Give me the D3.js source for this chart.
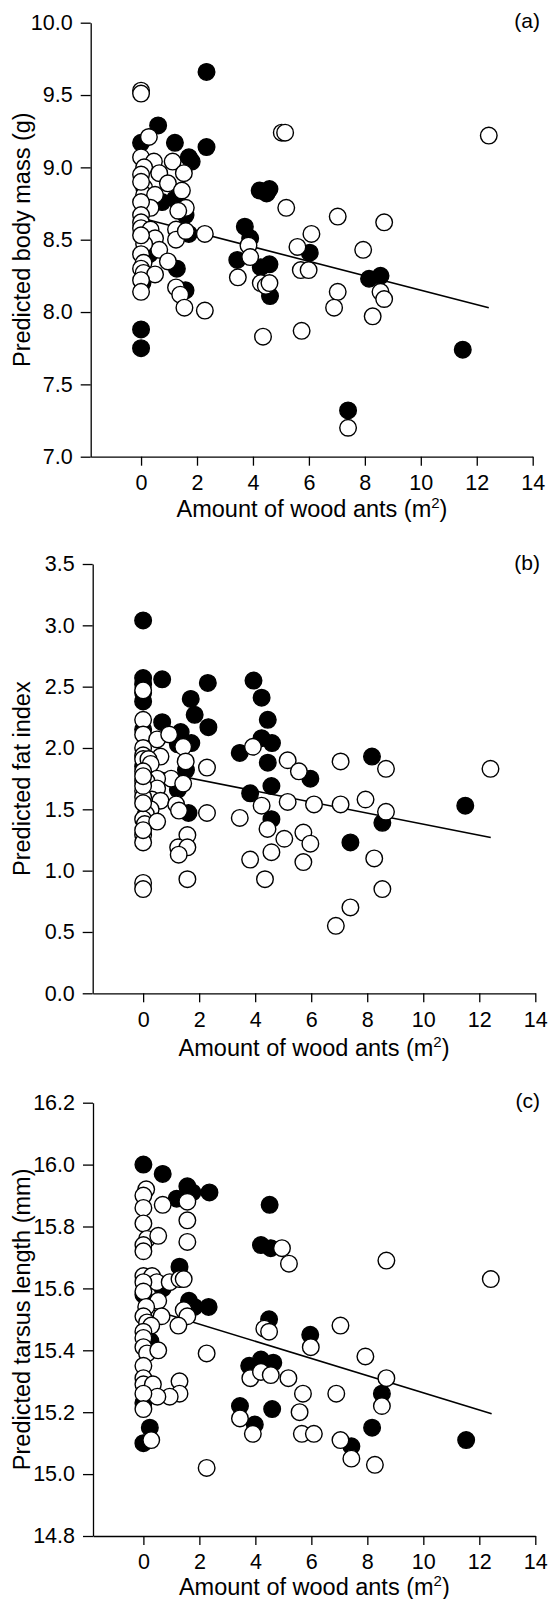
<!DOCTYPE html>
<html>
<head>
<meta charset="utf-8">
<script src="https://cdn.jsdelivr.net/npm/d3@7"></script>
<style>
    body { margin: 0; background: #fff; }
    svg { display: block; font-family: "Liberation Sans", Arial, sans-serif; }
</style>
</head>
<body>
<div id="chart"></div>
<script>
// 1: DATA (x = amount of wood ants, y = predicted value)
const xTicks = [0, 2, 4, 6, 8, 10, 12, 14];
const xTitle = "Amount of wood ants (m";

// (a) body mass
const massTicks = [7.0, 7.5, 8.0, 8.5, 9.0, 9.5, 10.0];
const massFilled = [[2.34,9.66],[0,7.75],[0,7.88],[0.61,9.29],[0,9.17],[1.21,9.17],[2.34,9.14],[1.71,9.07],[1.81,9.04],
    [1.21,8.78],[0.75,8.76],[1.71,8.54],[1.59,8.67],[1.28,8.3],[1.59,8.15],[3.71,8.59],[3.9,8.51],[3.44,8.36],[4.24,8.84],
    [4.59,8.85],[4.49,8.82],[4.28,8.31],[4.59,8.33],[4.61,8.11],[6.03,8.41],[8.15,8.23],[8.56,8.25],[7.4,7.32],[11.5,7.74],
    [0.3,8.4],[0.05,8.2]];
const massOpen = [[0,9.53],[0,9.51],[0.28,9.21],[0,9.07],[0.46,9.04],[0.11,9.0],[0.65,8.96],[1.13,9.04],[1.53,8.96],[0.96,8.89],
    [1.46,8.84],[0.11,8.86],[0.11,8.81],[0.5,8.81],[1.6,8.72],[1.33,8.7],[0.34,8.72],[0,8.95],[0,8.9],[0,8.76],[0,8.67],[0,8.62],
    [0,8.58],[0.34,8.57],[0.5,8.51],[1.25,8.57],[1.25,8.5],[1.6,8.56],[2.28,8.54],[0.65,8.43],[0.11,8.47],[0,8.53],[0,8.4],
    [0.09,8.34],[0,8.3],[0.96,8.35],[0.09,8.27],[0.5,8.26],[0,8.22],[0,8.14],[1.25,8.17],[1.4,8.12],[1.55,8.03],[2.28,8.01],
    [5.03,9.24],[5.15,9.24],[12.43,9.22],[5.19,8.72],[7.03,8.66],[8.69,8.62],[6.09,8.54],[5.59,8.45],[7.94,8.43],[3.84,8.46],
    [3.9,8.38],[3.46,8.24],[4.28,8.2],[4.46,8.18],[4.59,8.2],[5.71,8.29],[5.99,8.29],[7.03,8.14],[6.9,8.03],[8.56,8.14],
    [8.69,8.09],[8.28,7.97],[4.36,7.83],[5.74,7.87],[7.4,7.2]];
const massFit = [[0, 8.65], [12.43, 8.03]];

// (b) fat index
const fatTicks = [0.0, 0.5, 1.0, 1.5, 2.0, 2.5, 3.0, 3.5];
const fatFilled = [[0,3.04],[0,2.57],[0,2.52],[0,2.45],[0,2.38],[0.68,2.56],[2.31,2.53],[3.94,2.55],[4.23,2.41],[1.7,2.4],
    [1.84,2.27],[2.33,2.17],[4.45,2.23],[0.68,2.21],[1.34,2.13],[1.24,2.03],[1.72,2.04],[4.23,2.08],[4.6,2.04],[3.45,1.96],
    [4.45,1.88],[5.97,1.75],[1.53,1.82],[1.24,1.66],[3.82,1.63],[4.58,1.69],[1.62,1.47],[4.58,1.42],[8.17,1.93],[8.54,1.39],
    [7.4,1.23],[11.5,1.53],[0,2.15],[0,1.85]];
const fatOpen = [[0,2.47],[0,2.23],[0,2.11],[0.5,2.07],[0.93,2.11],[1.43,2.01],[3.92,2.01],[0,2.0],[0,1.94],[0,1.91],[0.62,1.93],
    [0.19,1.91],[1.52,1.89],[2.28,1.84],[0.27,1.87],[1.0,1.75],[0.5,1.75],[0,1.81],[0,1.73],[0,1.65],[0.12,1.73],[1.43,1.71],
    [0.5,1.67],[0.31,1.58],[0.62,1.57],[1.18,1.54],[0.27,1.5],[1.28,1.49],[2.28,1.47],[0.1,1.46],[0,1.42],[0.06,1.38],[0.5,1.4],
    [0,1.29],[0,1.23],[1.58,1.29],[1.25,1.19],[1.58,1.19],[1.27,1.13],[1.58,0.93],[0,0.9],[0,0.85],[5.16,1.9],[5.56,1.81],
    [7.05,1.89],[8.67,1.83],[12.4,1.83],[5.16,1.56],[4.23,1.53],[6.1,1.54],[7.05,1.54],[7.94,1.58],[8.67,1.48],[3.45,1.43],
    [4.44,1.34],[5.72,1.31],[5.04,1.26],[5.97,1.22],[4.58,1.15],[3.82,1.09],[5.72,1.07],[8.25,1.1],[4.35,0.93],[8.54,0.85],
    [7.4,0.7],[6.88,0.55],[0,1.6],[0,1.55],[0,1.69],[0,1.77],[0,1.33]];
const fatFit = [[0, 1.83], [12.41, 1.27]];

// (c) tarsus length
const tarsusTicks = [14.8, 15.0, 15.2, 15.4, 15.6, 15.8, 16.0, 16.2];
const tarsusFilled = [[0,16.0],[0.69,15.97],[1.57,15.93],[1.75,15.91],[2.36,15.91],[1.19,15.89],[4.51,15.87],[4.2,15.74],
    [4.55,15.73],[1.29,15.67],[0.69,15.6],[1.63,15.56],[1.82,15.54],[2.33,15.54],[4.49,15.5],[5.96,15.45],[0.25,15.43],
    [0,15.58],[3.78,15.35],[4.2,15.37],[4.64,15.36],[3.45,15.22],[3.98,15.16],[4.6,15.21],[8.52,15.26],[8.17,15.15],
    [7.43,15.09],[11.53,15.11],[0.23,15.15],[0,15.1],[0,15.23]];
const tarsusOpen = [[0.1,15.92],[0,15.9],[0,15.86],[0,15.81],[0.13,15.76],[0,15.74],[0,15.72],[0.53,15.77],[0.69,15.87],
    [1.57,15.88],[1.57,15.82],[1.57,15.75],[0,15.64],[0.31,15.64],[0.48,15.62],[0.94,15.62],[1.29,15.63],[1.44,15.63],
    [0,15.62],[0,15.59],[0.53,15.56],[0.1,15.54],[0,15.51],[1.44,15.53],[1.57,15.51],[0.65,15.51],[0.13,15.49],[0.28,15.48],
    [1.25,15.48],[0,15.46],[0,15.44],[0,15.41],[0.13,15.39],[0.53,15.4],[0,15.35],[0,15.31],[0,15.29],[0.34,15.29],
    [1.29,15.3],[1.29,15.26],[0.94,15.25],[0.5,15.25],[0,15.26],[0,15.21],[0.28,15.11],[2.26,15.39],[2.26,15.02],
    [4.95,15.73],[5.2,15.68],[8.68,15.69],[12.41,15.63],[7.04,15.48],[4.32,15.47],[4.49,15.46],[5.98,15.41],[7.93,15.38],
    [8.68,15.31],[5.18,15.31],[3.82,15.31],[4.2,15.33],[4.55,15.32],[5.7,15.26],[6.89,15.26],[8.52,15.22],[5.58,15.2],
    [3.45,15.18],[3.91,15.13],[5.66,15.13],[6.09,15.13],[7.04,15.11],[7.43,15.05],[8.27,15.03]];
const tarsusFit = [[0, 15.54], [12.44, 15.195]];

// 2: LAYOUT
const W = 548, H = 1599;
const tickFont = 21.5;
const titleFont = 23.5;

const svg = d3.select("#chart")
    .append("svg")
    .attr("width", W)
    .attr("height", H);

const panels = [
    { tag: "(a)", yTitle: "Predicted body mass (g)", ticks: massTicks, filled: massFilled, open: massOpen, fit: massFit,
      left: 90.7, right: 532.7, top: 22.7, bottom: 456.7, titleGap: 60 },
    { tag: "(b)", yTitle: "Predicted fat index", ticks: fatTicks, filled: fatFilled, open: fatOpen, fit: fatFit,
      left: 92.7, right: 535.3, top: 564, bottom: 993.3, titleGap: 63 },
    { tag: "(c)", yTitle: "Predicted tarsus length (mm)", ticks: tarsusTicks, filled: tarsusFilled, open: tarsusOpen, fit: tarsusFit,
      left: 93, right: 535.3, top: 1102.7, bottom: 1536, titleGap: 58.5 }
];

panels.forEach(p => {
    const g = svg.append("g");

    const x = d3.scaleLinear()
        .domain([-1.8, 14])
        .range([p.left, p.right]);

    const y = d3.scaleLinear()
        .domain(d3.extent(p.ticks))
        .range([p.bottom, p.top]);

    // axes
    const yAxis = g.append("g")
        .attr("transform", `translate(${p.left},0)`)
        .call(d3.axisLeft(y).tickValues(p.ticks).tickFormat(d3.format(".1f"))
            .tickSize(10).tickSizeOuter(0).tickPadding(8));

    const xAxis = g.append("g")
        .attr("transform", `translate(0,${p.bottom})`)
        .call(d3.axisBottom(x).tickValues(xTicks).tickFormat(d3.format("d"))
            .tickSize(9).tickSizeOuter(0).tickPadding(9));

    [yAxis, xAxis].forEach(a => {
        a.select(".domain").attr("stroke", "#000").attr("stroke-width", 1.3);
        a.selectAll(".tick line").attr("stroke", "#000").attr("stroke-width", 1.3);
        a.selectAll(".tick text")
            .attr("fill", "#000")
            .style("font-size", tickFont + "px")
            .style("font-family", "'Liberation Sans', Arial, sans-serif");
    });

    // regression line
    g.append("path")
        .datum(p.fit)
        .attr("d", d3.line().x(d => x(d[0])).y(d => y(d[1])))
        .attr("fill", "none")
        .attr("stroke", "#000")
        .attr("stroke-width", 1.6);

    // points: filled first, open on top
    g.selectAll("circle.filled")
        .data(p.filled)
        .enter()
        .append("circle")
        .attr("class", "filled")
        .attr("cx", d => x(d[0]))
        .attr("cy", d => y(d[1]))
        .attr("r", 8.3)
        .attr("fill", "#000")
        .attr("stroke", "#000")
        .attr("stroke-width", 1.4);

    g.selectAll("circle.open")
        .data(p.open)
        .enter()
        .append("circle")
        .attr("class", "open")
        .attr("cx", d => x(d[0]))
        .attr("cy", d => y(d[1]))
        .attr("r", 8.3)
        .attr("fill", "#fff")
        .attr("stroke", "#000")
        .attr("stroke-width", 1.4);

    // x axis title with superscript
    const xt = g.append("text")
        .attr("x", x(0) + 35.5)
        .attr("y", p.bottom + p.titleGap)
        .attr("text-anchor", "start")
        .style("font-size", titleFont + "px");
    xt.append("tspan").text(xTitle);
    xt.append("tspan").attr("dy", -9).style("font-size", "15px").text("2");
    xt.append("tspan").attr("dy", 9).text(")");

    // y axis title
    g.append("text")
        .attr("transform", `translate(30,${(p.top + p.bottom) / 2}) rotate(-90)`)
        .attr("text-anchor", "middle")
        .style("font-size", titleFont + "px")
        .text(p.yTitle);

    // panel tag
    g.append("text")
        .attr("x", 540)
        .attr("y", p.top + 5.5)
        .attr("text-anchor", "end")
        .style("font-size", "21px")
        .text(p.tag);
});
</script>
</body>
</html>
